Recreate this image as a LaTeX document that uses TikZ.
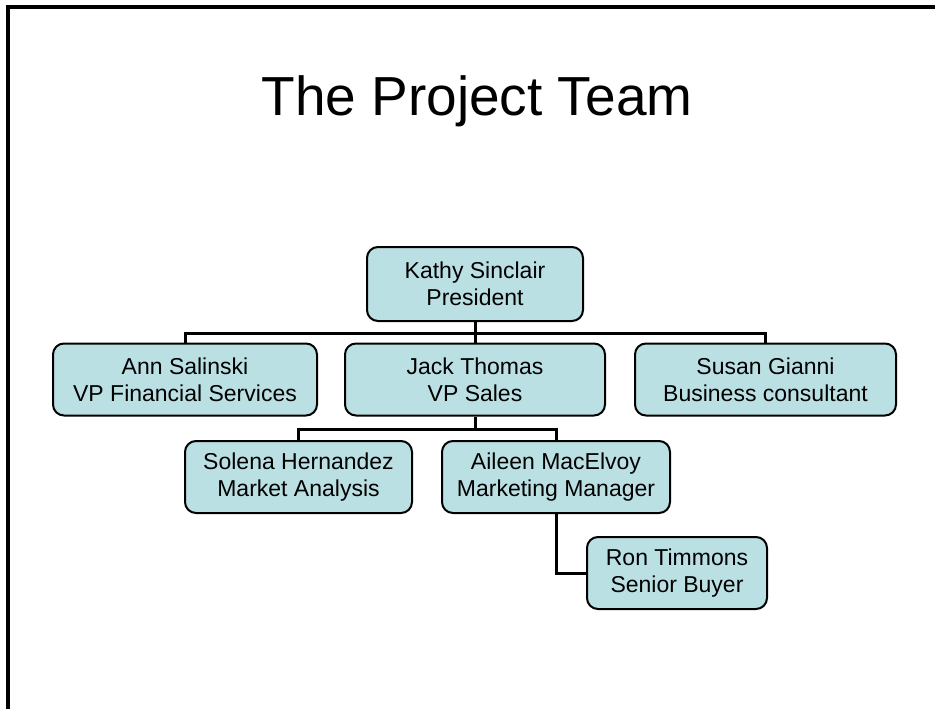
\documentclass[tikz,border=0pt]{standalone}
\usepackage{fontspec}
\setmainfont{Liberation Sans}
\usepackage{xcolor}
\definecolor{orgteal}{RGB}{187,224,227}
\usetikzlibrary{positioning,calc}

\begin{document}
\begin{tikzpicture}[x=1pt, y=-1pt,
  person/.style={rectangle, rounded corners=11pt, draw=black, line width=2pt,
                 fill=orgteal, minimum height=72pt, align=center, inner sep=0pt,
                 font=\fontsize{23}{27}\selectfont},
  link/.style={draw=black, line width=3pt}
]
\useasboundingbox (0,0) rectangle (935,709);
% slide frame
\draw[line width=3.5pt] (8,709) -- (8,7) -- (935,7);
\node[font=\fontsize{55}{60}\selectfont, anchor=base] (title) at (477,115) {The Project Team};

\node[person, minimum width=216pt, minimum height=74pt] (kathy) at (475,284) {Kathy Sinclair\\President};
\node[person, minimum width=264pt] (ann)    at (185,379.5) {Ann Salinski\\VP Financial Services};
\node[person, minimum width=260pt] (jack)   at (475,379.5) {Jack Thomas\\VP Sales};
\node[person, minimum width=261pt] (susan)  at (765.5,379.5) {Susan Gianni\\Business consultant};
\node[person, minimum width=227pt] (solena) at (298.5,477) {Solena Hernandez\\Market Analysis};
\node[person, minimum width=228pt] (aileen) at (556,477) {Aileen MacElvoy\\Marketing Manager};
\node[person, minimum width=180pt] (ron)    at (677,573) {Ron Timmons\\Senior Buyer};

\coordinate (bus1) at (475,333);
\coordinate (bus2) at (475,429);

% connectors
\draw[link] (kathy.south) -- (bus1);
\draw[link] (ann.north) -- (ann.north |- bus1) -- (susan.north |- bus1) -- (susan.north);
\draw[link] (bus1) -- (jack.north);
\draw[link] (jack.south) -- (bus2);
\draw[link] (solena.north) -- (solena.north |- bus2) -- (aileen.north |- bus2) -- (aileen.north);
\draw[link] (aileen.south) |- (ron.west);
\end{tikzpicture}
\end{document}
